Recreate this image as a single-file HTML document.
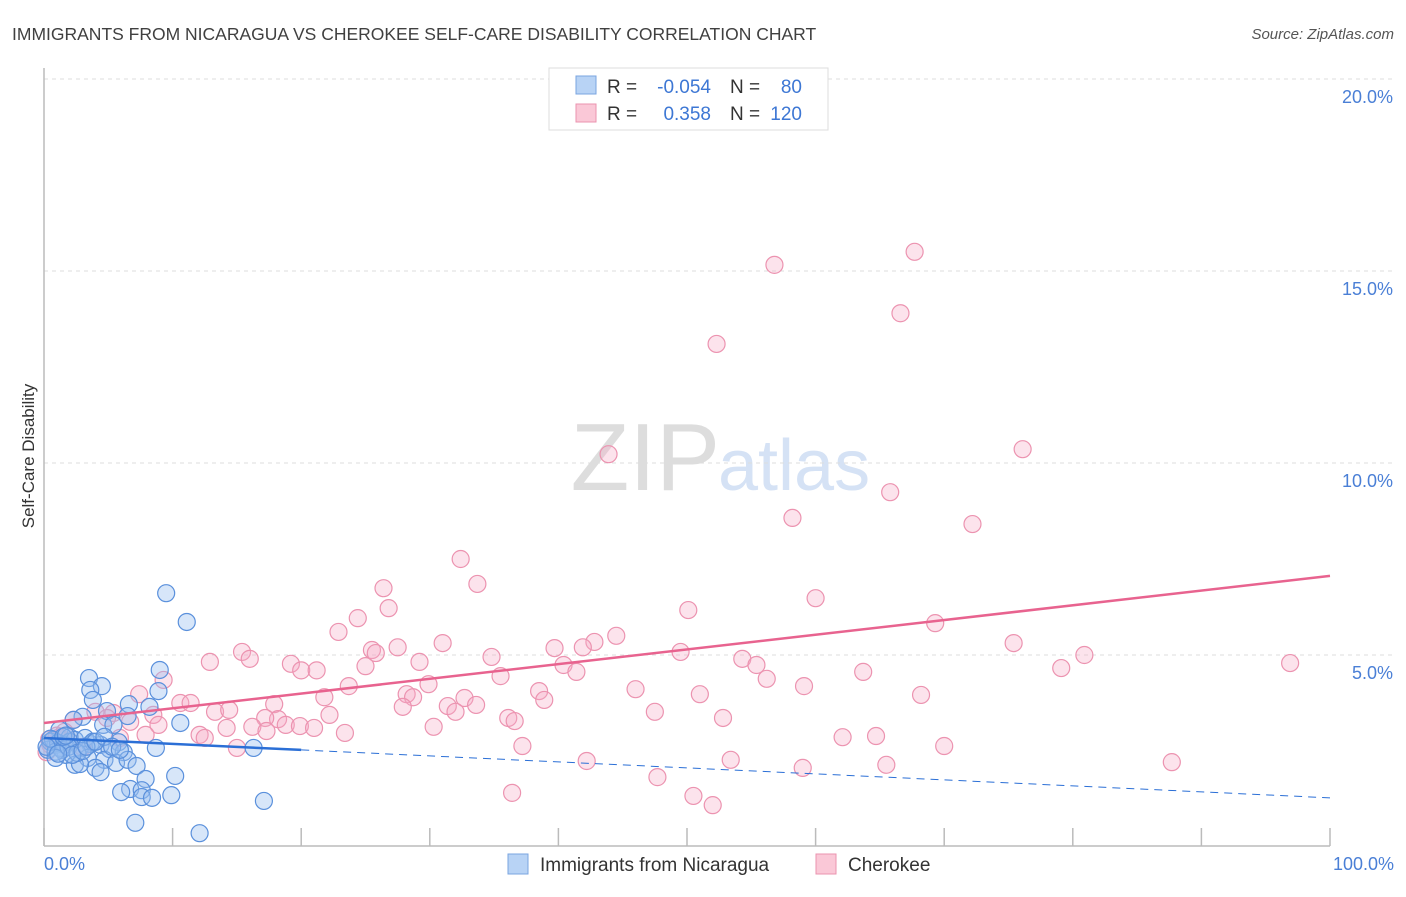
<!DOCTYPE html>
<html><head><meta charset="utf-8"><style>
body{margin:0;background:#fff;font-family:"Liberation Sans",sans-serif}
svg text{font-family:"Liberation Sans",sans-serif}
</style></head><body>
<svg id="c" width="1406" height="892">
<text x="12" y="40" font-size="17.5" fill="#404040">IMMIGRANTS FROM NICARAGUA VS CHEROKEE SELF-CARE DISABILITY CORRELATION CHART</text>
<text x="1394" y="39" font-size="15" fill="#555" font-style="italic" text-anchor="end">Source: ZipAtlas.com</text>
<text x="720" y="490" font-size="96" fill="#ddd" text-anchor="end" font-family="Liberation Serif">ZIP</text>
<text x="718" y="490" font-size="72" fill="#d5e2f5">atlas</text>
<g id="grid"></g>
<g id="ax"></g>
<g id="pts"></g>
<g id="trend"></g>
<text transform="translate(34,456) rotate(-90)" font-size="17" fill="#333" text-anchor="middle">Self-Care Disability</text>
<text x="44" y="870" font-size="18" fill="#4a7fd6">0.0%</text>
<text x="1394" y="870" font-size="18" fill="#4a7fd6" text-anchor="end">100.0%</text>
<g>
<rect x="549" y="68" width="279" height="62" fill="#fff" stroke="#ddd"/>
<rect x="576" y="76" width="20" height="18" fill="#b8d3f5" stroke="#7aa5e0"/>
<rect x="576" y="104" width="20" height="18" fill="#fac8d7" stroke="#eb93af"/>
<text x="607" y="93" font-size="19" fill="#333">R =</text>
<text x="711" y="93" font-size="19" fill="#3d77d4" text-anchor="end">-0.054</text>
<text x="730" y="93" font-size="19" fill="#333">N =</text>
<text x="802" y="93" font-size="19" fill="#3d77d4" text-anchor="end">80</text>
<text x="607" y="120" font-size="19" fill="#333">R =</text>
<text x="711" y="120" font-size="19" fill="#3d77d4" text-anchor="end">0.358</text>
<text x="730" y="120" font-size="19" fill="#333">N =</text>
<text x="802" y="120" font-size="19" fill="#3d77d4" text-anchor="end">120</text>
</g>
<g>
<rect x="508" y="854" width="20" height="20" fill="#b8d3f5" stroke="#7aa5e0"/>
<text x="540" y="871" font-size="19" fill="#333">Immigrants from Nicaragua</text></g>
<g>
<rect x="816" y="854" width="20" height="20" fill="#fac8d7" stroke="#eb93af"/>
<text x="848" y="871" font-size="19" fill="#333">Cherokee</text></g>
</svg>
<script>
const yTicks=[5,10,15,20];
const yTickLabels=["5.0%","10.0%","15.0%","20.0%"];
const xTicks=[0,10,20,30,40,50,60,70,80,90,100];
const pinkX=[56.8,67.7,66.6,52.3,76.1,43.9,65.8,58.2,72.2,32.4,33.7,26.4,26.8,50.1,60.0,24.4,22.9,44.5,42.8,41.9,31.0,27.5,25.5,25.8,39.7,69.3,75.4,15.4,16.0,12.9,19.2,20.0,21.2,25.0,29.2,34.8,40.4,49.5,54.3,55.4,56.2,41.4,35.5,80.9,79.1,96.9,63.7,59.1,46.0,51.0,68.2,29.9,23.7,21.8,28.2,28.7,32.7,38.5,38.9,33.6,31.4,27.9,32.0,47.5,52.8,36.1,36.6,30.3,22.2,17.9,18.2,13.3,14.4,17.2,16.2,18.8,19.9,21.0,23.4,14.2,12.1,12.5,17.3,15.0,10.6,11.4,9.3,7.4,8.5,8.9,6.7,5.4,4.0,4.9,5.9,7.9,2.3,1.2,0.5,0.2,37.2,42.2,53.4,62.1,64.7,70.0,65.5,59.0,47.7,87.7,36.4,50.5,52.0,1.0,2.0,3.0,0.4,1.6];
const pinkY=[15.16,15.5,13.9,13.1,10.36,10.23,9.24,8.57,8.41,7.5,6.85,6.74,6.22,6.17,6.48,5.96,5.6,5.5,5.34,5.2,5.31,5.2,5.13,5.05,5.18,5.83,5.31,5.08,4.9,4.82,4.77,4.6,4.6,4.71,4.82,4.95,4.74,5.08,4.9,4.74,4.38,4.56,4.45,5.0,4.66,4.79,4.56,4.19,4.11,3.98,3.96,4.24,4.19,3.9,3.98,3.9,3.88,4.06,3.83,3.7,3.67,3.65,3.52,3.52,3.36,3.36,3.28,3.13,3.44,3.72,3.33,3.52,3.57,3.36,3.13,3.18,3.15,3.1,2.97,3.1,2.92,2.84,3.02,2.58,3.75,3.75,4.35,3.98,3.44,3.18,3.26,3.49,3.52,3.36,2.84,2.92,3.31,2.86,2.66,2.47,2.63,2.24,2.27,2.86,2.89,2.63,2.14,2.06,1.82,2.21,1.41,1.33,1.09,2.9,2.75,2.6,2.8,3.0];
const blueX=[9.5,11.1,9.0,3.5,4.5,3.6,8.9,3.8,6.6,8.2,4.9,3.0,6.5,10.6,4.6,5.4,2.3,1.2,2.0,5.8,8.7,16.3,3.6,4.4,2.8,5.1,6.2,1.7,3.4,4.7,5.6,6.5,7.2,4.0,2.4,2.8,4.4,7.9,10.2,6.7,6.0,7.6,7.6,8.4,9.9,17.1,7.1,12.1,0.5,0.9,1.3,0.3,0.7,1.1,1.6,2.0,1.4,0.9,2.4,3.2,1.9,2.6,3.8,0.9,0.5,1.5,2.2,3.0,0.2,1.1,1.7,3.3,4.0,4.7,5.3,5.9];
const blueY=[6.61,5.86,4.61,4.4,4.19,4.09,4.06,3.83,3.72,3.65,3.54,3.39,3.41,3.23,3.18,3.18,3.31,3.05,2.86,2.73,2.58,2.58,2.68,2.66,2.58,2.55,2.47,2.4,2.32,2.27,2.19,2.27,2.11,2.06,2.14,2.16,1.95,1.77,1.85,1.51,1.43,1.48,1.3,1.28,1.35,1.2,0.63,0.36,2.74,2.66,2.58,2.53,2.79,2.71,2.66,2.74,2.53,2.48,2.79,2.84,2.61,2.45,2.74,2.32,2.82,2.87,2.4,2.5,2.61,2.43,2.9,2.61,2.74,2.87,2.61,2.53];
const blueTrend=[2.84,1.28];
const pinkTrend=[3.23,7.06];
const X=v=>44+v*12.86, Y=v=>847-v*38.4;
const NS="http://www.w3.org/2000/svg";
function mk(t,a,p){const e=document.createElementNS(NS,t);for(const k in a)e.setAttribute(k,a[k]);p.appendChild(e);return e;}
const grid=document.getElementById('grid'),ax=document.getElementById('ax'),pts=document.getElementById('pts'),tr=document.getElementById('trend');
yTicks.forEach((t,i)=>{
 const l=mk('line',{x1:44,x2:1394,y1:Y(t),y2:Y(t),stroke:'#ddd','stroke-dasharray':'4,4'},grid);
 
 
 const tx=mk('text',{x:1393,y:Y(t)+24,'font-size':18,fill:'#4a7fd6','text-anchor':'end'},grid);
 tx.textContent=yTickLabels[i];
 
 
});
const yax=mk('line',{x1:44,x2:44,y1:68,y2:846,stroke:'#bbb','stroke-width':1.5},ax);


const xax=mk('line',{x1:44,x2:1330,y1:846,y2:846,stroke:'#bbb','stroke-width':1.5},ax);


xTicks.forEach(t=>{
 const l=mk('line',{x1:X(t),x2:X(t),y1:828,y2:846,stroke:'#bbb','stroke-width':1.5},ax);
 
 
});
pinkX.forEach((x,i)=>{
 const c=mk('circle',{cx:X(x),cy:Y(pinkY[i]),r:8.5,fill:'rgba(246,170,196,0.33)',stroke:'#ec93b0','stroke-width':1.2},pts);
 
 
});
blueX.forEach((x,i)=>{
 const c=mk('circle',{cx:X(x),cy:Y(blueY[i]),r:8.5,fill:'rgba(150,188,238,0.38)',stroke:'#5a90dc','stroke-width':1.2},pts);
 
 
});
const by=x=>blueTrend[0]+(blueTrend[1]-blueTrend[0])*x/100;
const b1=mk('line',{x1:X(0),y1:Y(by(0)),x2:X(20),y2:Y(by(20)),stroke:'#2b6fd6','stroke-width':2.5},tr);


const b2=mk('line',{x1:X(20),y1:Y(by(20)),x2:X(100),y2:Y(by(100)),stroke:'#2b6fd6','stroke-width':1,'stroke-dasharray':'8,6'},tr);


const p1=mk('line',{x1:X(0),y1:Y(pinkTrend[0]),x2:X(100),y2:Y(pinkTrend[1]),stroke:'#e8638f','stroke-width':2.5},tr);


</script>
</body></html>
